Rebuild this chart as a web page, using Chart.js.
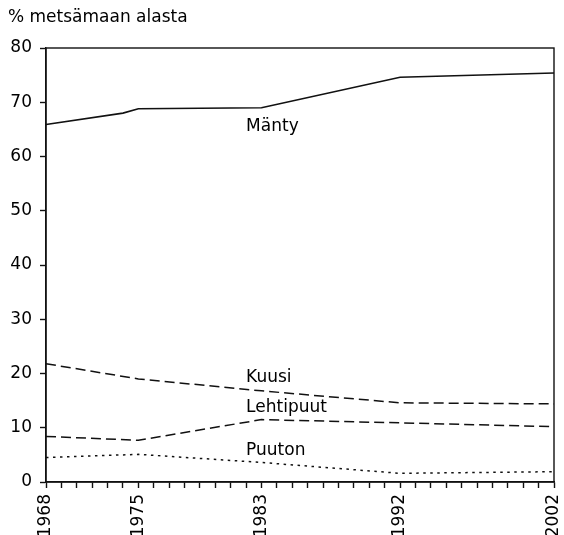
<!DOCTYPE html>
<html>
<head>
<meta charset="utf-8">
<script src="https://cdn.jsdelivr.net/npm/chart.js@4/dist/chart.umd.min.js"></script>
<style>
  body { margin: 0; background: #fff; }
  #wrap { width: 564px; height: 535px; }
</style>
</head>
<body>
<div id="wrap"><canvas id="chart" width="564" height="535"></canvas></div>
<script>
// axis positions as drawn in the figure (its tick row skips one year)
const axisYears = ['1968','1969','1970','1971','1972','1973',
  '1975','1976','1977','1978','1979','1980','1981','1982','1983','1984','1985',
  '1986','1987','1988','1989','1990','1991','1992','1993','1994','1995','1996',
  '1997','1998','1999','2000','2001','2002'];
const labelYears = ['1968','1975','1983','1992','2002'];

const mantyYears = ['1968','1973','1975','1983','1992','2002'];
const mantyValues = [65.9, 68.0, 68.8, 69.0, 74.6, 75.4];

const surveyYears = ['1968','1975','1983','1992','2002'];
const kuusiValues = [21.8, 19.0, 16.8, 14.6, 14.4];
const lehtipuutValues = [8.4, 7.7, 11.5, 10.9, 10.2];
const puutonValues = [4.5, 5.1, 3.6, 1.6, 1.9];

const yTitle = '% metsämaan alasta';
const seriesNames = ['Mänty', 'Kuusi', 'Lehtipuut', 'Puuton'];
const seriesLabelPos = [['1982', 65.6], ['1982', 19.2], ['1982', 13.7], ['1982', 5.8]];

const ink = '#111';
const fontFamily = '"DejaVu Sans", sans-serif';

function pairs(xs, ys) {
    return xs.map((x, i) => ({x: x, y: ys[i]}));
}

const textPlugin = {
    id: 'textPlugin',
    afterDraw(chart) {
        const c = chart.ctx;
        const area = chart.chartArea;
        const xs = chart.scales.x;
        const ys = chart.scales.y;
        c.save();
        // frame: top and right sides
        c.strokeStyle = ink;
        c.lineWidth = 1.4;
        c.strokeRect(area.left, area.top, area.right - area.left, area.bottom - area.top);

        c.fillStyle = '#000';
        c.font = '17px ' + fontFamily;
        c.textBaseline = 'middle';
        c.textAlign = 'left';
        c.fillText(yTitle, 8, 18);

        seriesNames.forEach((name, i) => {
            const pos = seriesLabelPos[i];
            const px = xs.getPixelForValue(axisYears.indexOf(pos[0]));
            const py = ys.getPixelForValue(pos[1]);
            c.fillText(name, px, py);
        });
        c.restore();
    }
};

new Chart(document.getElementById('chart'), {
    type: 'line',
    data: {
        labels: axisYears,
        datasets: [
            {
                label: seriesNames[0],
                data: pairs(mantyYears, mantyValues),
                borderColor: ink,
                borderWidth: 1.6
            },
            {
                label: seriesNames[1],
                data: pairs(surveyYears, kuusiValues),
                borderColor: ink,
                borderWidth: 1.5,
                borderDash: [10, 5]
            },
            {
                label: seriesNames[2],
                data: pairs(surveyYears, lehtipuutValues),
                borderColor: ink,
                borderWidth: 1.5,
                borderDash: [10, 5]
            },
            {
                label: seriesNames[3],
                data: pairs(surveyYears, puutonValues),
                borderColor: ink,
                borderWidth: 1.5,
                borderDash: [2.5, 4.5]
            }
        ]
    },
    options: {
        responsive: false,
        animation: false,
        devicePixelRatio: 1,
        layout: { padding: { top: 48, right: 10, left: 0, bottom: 0 } },
        elements: {
            point: { radius: 0 },
            line: { tension: 0, fill: false }
        },
        plugins: {
            legend: { display: false },
            tooltip: { enabled: false }
        },
        scales: {
            x: {
                type: 'category',
                offset: false,
                afterFit: (scale) => {
                    scale.height = 53;
                    scale.paddingLeft = 0;
                    scale.paddingRight = 0;
                },
                border: { display: true, color: ink, width: 1.4 },
                grid: {
                    display: true,
                    drawOnChartArea: false,
                    drawTicks: true,
                    tickLength: 6,
                    tickColor: ink,
                    tickWidth: 1.4
                },
                ticks: {
                    autoSkip: false,
                    minRotation: 90,
                    maxRotation: 90,
                    padding: 6,
                    color: '#000',
                    font: { family: fontFamily, size: 17 },
                    callback: function(value) {
                        const y = this.getLabelForValue(value);
                        return labelYears.includes(y) ? y : '';
                    }
                }
            },
            y: {
                min: 0,
                max: 80,
                afterFit: (scale) => {
                    scale.width = 46;
                    scale.paddingTop = 0;
                    scale.paddingBottom = 0;
                },
                border: { display: true, color: ink, width: 1.4 },
                grid: {
                    display: true,
                    drawOnChartArea: false,
                    drawTicks: true,
                    tickLength: 6,
                    tickColor: ink,
                    tickWidth: 1.4
                },
                ticks: {
                    stepSize: 10,
                    padding: 8,
                    color: '#000',
                    font: { family: fontFamily, size: 17 }
                }
            }
        }
    },
    plugins: [textPlugin]
});
</script>
</body>
</html>
